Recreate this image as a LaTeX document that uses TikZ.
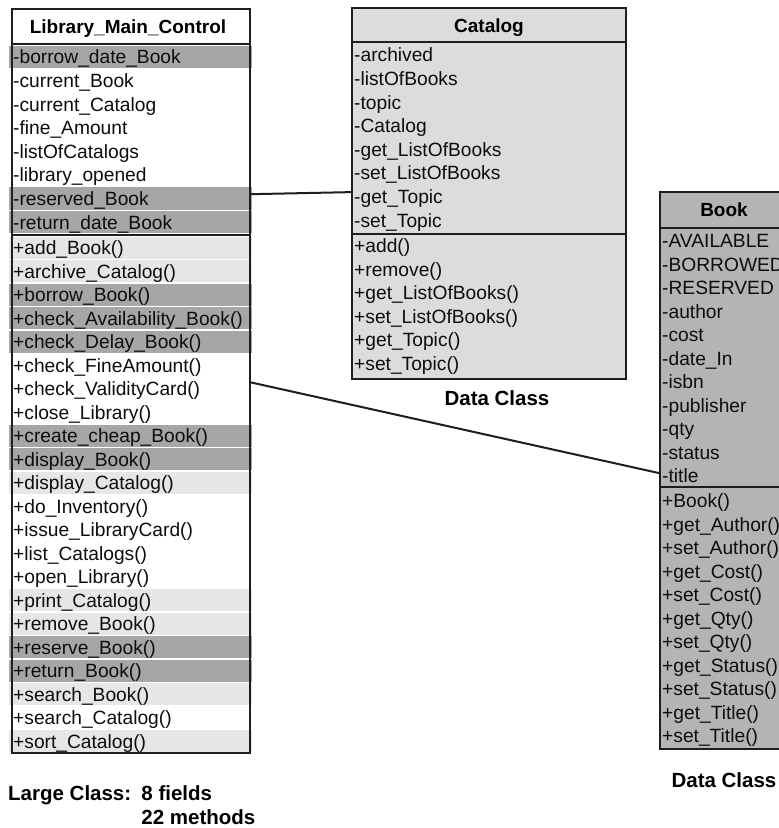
\documentclass[tikz,border=0pt]{standalone}
\usepackage{fontspec}
\setmainfont{Liberation Sans}
\definecolor{bandD}{HTML}{A6A6A6}
\definecolor{bandL}{HTML}{E6E6E6}
\definecolor{catFill}{HTML}{DCDCDC}
\definecolor{bookFill}{HTML}{B4B4B4}
\definecolor{inkC}{HTML}{1E1E1E}
\tikzset{
  dk/.style={fill=bandD},
  lt/.style={fill=bandL},
  wh/.style={fill=white},
  boxline/.style={draw=inkC, line width=2pt},
  rowtxt/.style={anchor=north west, inner sep=0pt, text height=18.6pt, text depth=5.0pt,
    font=\fontsize{19.2}{21}\selectfont, text=black!95, align=left},
  ttl/.style={anchor=base, inner sep=0pt, font=\bfseries\fontsize{19}{21}\selectfont},
  capt/.style={inner sep=0pt, font=\bfseries\fontsize{20.5}{24}\selectfont, align=left},
  conn/.style={draw=inkC, line width=2pt}
}
\begin{document}
\begin{tikzpicture}[x=1pt,y=-1pt]
\useasboundingbox (0,0) rectangle (779,828);
\clip (0,0) rectangle (779,828);
% ---------------- Library_Main_Control ----------------
\fill[white] (12,9) rectangle (250,753);
\foreach \c/\t [count=\i] in {dk/-borrow\_date\_Book, wh/-current\_Book, wh/-current\_Catalog,
  wh/-fine\_Amount, wh/-listOfCatalogs, wh/-library\_opened, dk/-reserved\_Book, dk/-return\_date\_Book}
{
  \pgfmathsetmacro\yt{45+(\i-1)*23.6}
  \fill[\c] (9,\yt+0.7) rectangle (252,\yt+22.9);
  \node[rowtxt, text width=237pt] (lf\i) at (13,\yt) {\t};
}
\foreach \c/\t [count=\i] in {lt/+add\_Book(), lt/+archive\_Catalog(), dk/+borrow\_Book(),
  dk/+check\_Availability\_Book(), dk/+check\_Delay\_Book(), wh/+check\_FineAmount(),
  wh/+check\_ValidityCard(), wh/+close\_Library(), dk/+create\_cheap\_Book(), dk/+display\_Book(),
  lt/+display\_Catalog(), wh/+do\_Inventory(), wh/+issue\_LibraryCard(), wh/+list\_Catalogs(),
  wh/+open\_Library(), lt/+print\_Catalog(), lt/+remove\_Book(), dk/+reserve\_Book(),
  dk/+return\_Book(), lt/+search\_Book(), wh/+search\_Catalog(), lt/+sort\_Catalog()}
{
  \pgfmathsetmacro\yt{236+(\i-1)*23.5}
  \fill[\c] (9,\yt+0.7) rectangle (252,\yt+22.8);
  \node[rowtxt, text width=237pt] (lm\i) at (13,\yt) {\t};
}
\node[ttl] (libT) at (128,33) {Library\_Main\_Control};
\draw[boxline] (12,9) rectangle (250,753);
\draw[boxline] (12,44) -- (250,44);
\draw[boxline] (12,235) -- (250,235);
% ---------------- Catalog ----------------
\fill[catFill] (352,8) rectangle (626,379);
\foreach \t [count=\i] in {-archived, -listOfBooks, -topic, -Catalog, -get\_ListOfBooks,
  -set\_ListOfBooks, -get\_Topic, -set\_Topic}
{
  \pgfmathsetmacro\yt{43+(\i-1)*23.6}
  \node[rowtxt, text width=272pt] (cf\i) at (354,\yt) {\t};
}
\foreach \t [count=\i] in {+add(), +remove(), +get\_ListOfBooks(), +set\_ListOfBooks(),
  +get\_Topic(), +set\_Topic()}
{
  \pgfmathsetmacro\yt{234+(\i-1)*23.5}
  \node[rowtxt, text width=272pt] (cm\i) at (354,\yt) {\t};
}
\node[ttl] (catT) at (489,32) {Catalog};
\draw[boxline] (352,8) rectangle (626,379);
\draw[boxline] (352,42) -- (626,42);
\draw[boxline] (352,234) -- (626,234);
\node[capt, anchor=base] (catDC) at (497,405) {Data Class};
% ---------------- Book ----------------
\fill[bookFill] (660,192) rectangle (792,749);
\foreach \t [count=\i] in {-AVAILABLE, -BORROWED, -RESERVED, -author, -cost, -date\_In,
  -isbn, -publisher, -qty, -status, -title}
{
  \pgfmathsetmacro\yt{229+(\i-1)*23.5}
  \node[rowtxt, text width=128pt] (bf\i) at (662,\yt) {\t};
}
\foreach \t [count=\i] in {+Book(), +get\_Author(), +set\_Author(), +get\_Cost(), +set\_Cost(),
  +get\_Qty(), +set\_Qty(), +get\_Status(), +set\_Status(), +get\_Title(), +set\_Title()}
{
  \pgfmathsetmacro\yt{489+(\i-1)*23.5}
  \node[rowtxt, text width=128pt] (bm\i) at (662,\yt) {\t};
}
\node[ttl] (bookT) at (724,216) {Book};
\draw[boxline] (660,192) rectangle (792,749);
\draw[boxline] (660,228) -- (792,228);
\draw[boxline] (660,487) -- (792,487);
\node[capt, anchor=base] (bookDC) at (724,787) {Data Class};
% ---------------- caption ----------------
\node[capt, anchor=base west] (large) at (8,824)
  {Large Class:\enspace 8 fields\\\hphantom{Large Class:\enspace}22 methods};
% ---------------- connectors ----------------
\draw[conn] ([yshift=4.4pt]lf7.east) -- ([yshift=4.5pt,xshift=-2pt]cf7.west);
\draw[conn] ([yshift=6.7pt]lm7.east) -- ([yshift=2.7pt,xshift=-2pt]bf11.west);
\end{tikzpicture}
\end{document}
